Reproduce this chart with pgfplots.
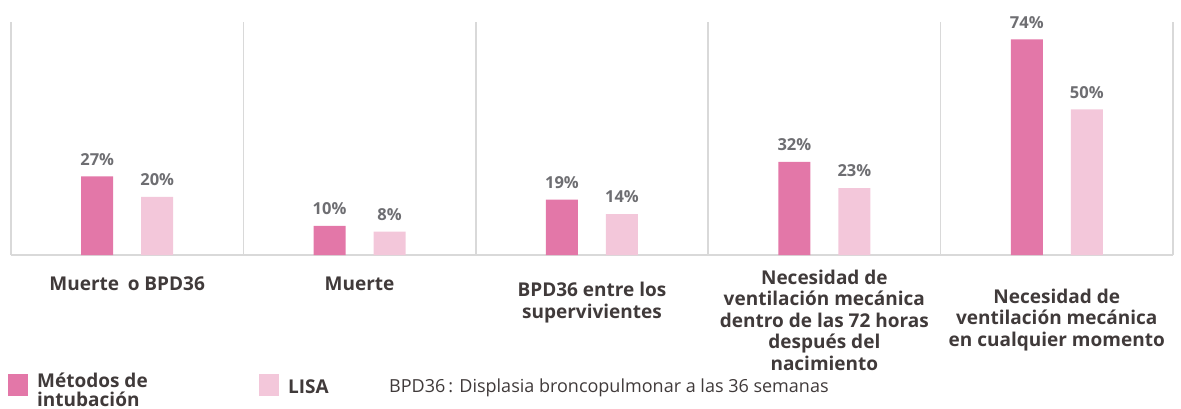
\documentclass[border=0pt]{standalone}
\usepackage{pgfplots}
\pgfplotsset{compat=1.18}
\usepackage{fontspec}
\setmainfont{Open Sans}
\definecolor{cdark}{RGB}{227,119,168}
\definecolor{clight}{RGB}{243,199,218}
\definecolor{cval}{RGB}{110,110,114}
\definecolor{ccat}{RGB}{64,58,58}
\definecolor{cgrid}{RGB}{217,217,217}
\begin{document}
\begin{tikzpicture}
\useasboundingbox (-11bp,-154bp) rectangle (1170bp,255bp);
\begin{axis}[
  at={(0,0)}, anchor=south west,
  scale only axis, width=1162bp, height=233bp,
  xmin=-0.5, xmax=4.5, ymin=0, ymax=80,
  axis line style={draw=none},
  xtick={0,1,2,3,4}, xticklabels={}, major tick length=0pt,
  minor xtick={-0.5,0.5,1.5,2.5,3.5,4.5},
  minor tick length=0pt,
  xminorgrids, minor grid style={cgrid, line width=1.5bp},
  ytick={0}, yticklabels={}, ymajorgrids, major grid style={cgrid, line width=2bp},
  clip=false,
  /pgf/number format/assume math mode=true,
  ybar, bar width=32bp,
  nodes near coords={\pgfmathprintnumber{\pgfplotspointmeta}\%},
  every node near coord/.append style={font=\bfseries\fontsize{16.5bp}{19bp}\selectfont, text=cval, anchor=south, inner sep=0pt, yshift=11bp},
  legend style={at={(-3bp,-116bp)}, anchor=north west, draw=none, fill=none,
    legend columns=3, font=\bfseries\fontsize{19bp}{20bp}\selectfont, text=ccat,
    /tikz/every odd column/.append style={column sep=7bp},
    /tikz/every even column/.append style={column sep=0bp},
    inner sep=0pt, row sep=0pt},
  legend cell align=left,
  legend image code/.code={\fill[#1,draw=none] (0bp,-11bp) rectangle (20bp,11bp);},
]
\addplot[fill=cdark, draw=none, bar shift=-30bp] coordinates {(0,27) (1,10) (2,19) (3,32) (4,74)};
\addlegendentry{\parbox[c]{220bp}{\raggedright Métodos de\\[-1bp]intubación}}
\addplot[fill=clight, draw=none, bar shift=30bp] coordinates {(0,20) (1,8) (2,14) (3,23) (4,50)};
\addlegendentry{\raisebox{-4bp}{\makebox[90bp][l]{LISA}}}
\addlegendimage{empty legend}
\addlegendentry{\raisebox{-3bp}{\mdseries\fontsize{18bp}{19bp}\selectfont BPD36\,: Displasia broncopulmonar a las 36 semanas}}
\tikzset{catlab/.style={font=\bfseries\fontsize{19bp}{21.5bp}\selectfont, text=ccat, align=center, anchor=center, inner sep=0pt}}
\node[catlab] at (axis cs:0,0) [yshift=-29bp] {Muerte\hspace{0.45em}o BPD36};
\node[catlab] at (axis cs:1,0) [yshift=-29bp] {Muerte};
\node[catlab] at (axis cs:2,0) [yshift=-47.5bp] {BPD36 entre los\\supervivientes};
\node[catlab] at (axis cs:3,0) [yshift=-65bp] {Necesidad de\\ventilación mecánica\\dentro de las 72 horas\\después del\\nacimiento};
\node[catlab] at (axis cs:4,0) [yshift=-65bp] {Necesidad de\\ventilación mecánica\\en cualquier momento};
\end{axis}
\end{tikzpicture}
\end{document}
